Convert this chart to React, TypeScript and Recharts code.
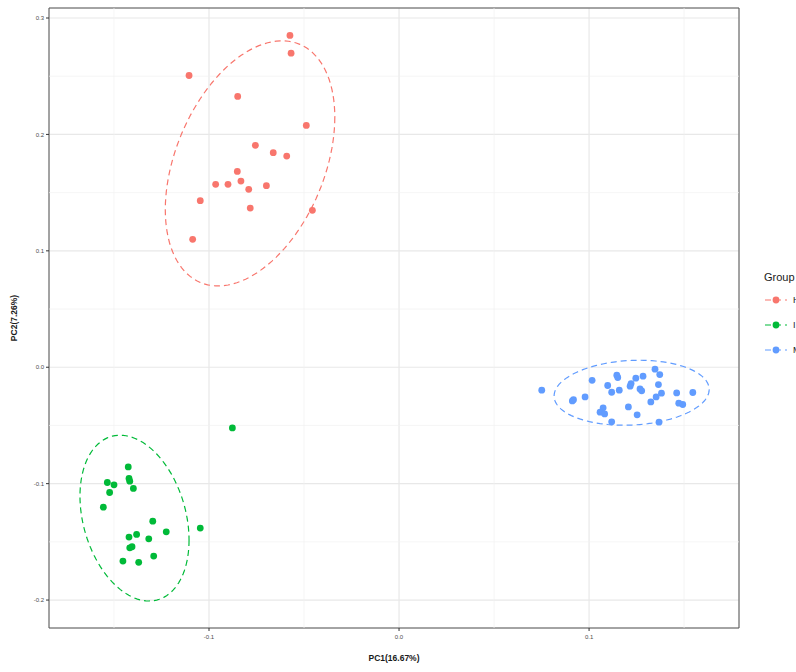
import { ScatterChart, Scatter, XAxis, YAxis, CartesianGrid, ReferenceLine, ReferenceArea } from "recharts";

// groups (legend text is clipped at the right edge of the picture)
const groupNames = ["H", "I", "M"];
const groupColors = ["#F8766D", "#00BA38", "#619CFF"];

const redPC1 = [-0.0574, -0.0568, -0.1105, -0.0849, -0.0488, -0.0756, -0.0662, -0.0591, -0.0851, -0.0965, -0.09, -0.0832, -0.0791, -0.0698, -0.1046, -0.0783, -0.0456, -0.1086];
const redPC2 = [0.285, 0.2698, 0.2506, 0.2326, 0.2077, 0.1906, 0.1843, 0.1814, 0.1682, 0.1571, 0.1571, 0.1599, 0.1528, 0.156, 0.1431, 0.1367, 0.1348, 0.1099];

const greenPC1 = [-0.0877, -0.1425, -0.1421, -0.1417, -0.1535, -0.15, -0.1398, -0.1523, -0.1556, -0.1296, -0.1046, -0.1225, -0.1381, -0.1421, -0.1317, -0.1405, -0.1417, -0.1291, -0.1453, -0.137];
const greenPC2 = [-0.0521, -0.0856, -0.0955, -0.0979, -0.099, -0.101, -0.1041, -0.1076, -0.1202, -0.1322, -0.1382, -0.1414, -0.1436, -0.1459, -0.1474, -0.1542, -0.1551, -0.1622, -0.1665, -0.1676];

const bluePC1 = [0.0751, 0.0912, 0.0918, 0.0979, 0.1016, 0.1098, 0.1119, 0.1146, 0.1151, 0.1159, 0.1216, 0.1221, 0.1246, 0.1284, 0.1268, 0.1277, 0.1347, 0.1372, 0.1365, 0.1381, 0.1353, 0.1325, 0.1461, 0.1546, 0.1472, 0.1493, 0.1207, 0.1253, 0.1074, 0.1058, 0.1082, 0.1119, 0.1368];
const bluePC2 = [-0.0197, -0.0289, -0.0279, -0.0255, -0.0112, -0.0157, -0.0215, -0.0069, -0.0088, -0.0197, -0.0163, -0.014, -0.0094, -0.0077, -0.0186, -0.0203, -0.0017, -0.0063, -0.0149, -0.0223, -0.0255, -0.0298, -0.0221, -0.0217, -0.0309, -0.032, -0.0341, -0.0409, -0.0349, -0.0386, -0.0401, -0.0469, -0.0472];

// confidence ellipses: centre, half width (PC1), half height (PC2), phase
const ellipseCX = [-0.0784, -0.1392, 0.1224];
const ellipseCY = [0.1751, -0.1296, -0.0219];
const ellipseA = [0.0446, 0.0287, 0.0408];
const ellipseB = [0.1053, 0.0712, 0.0279];
const ellipsePhase = [1.184, 1.839, 1.47];

const xTicks = [-0.1, 0, 0.1];
const yTicks = [-0.2, -0.1, 0, 0.1, 0.2, 0.3];
const xMinor = [-0.15, -0.05, 0.05, 0.15];
const yMinor = [-0.15, -0.05, 0.05, 0.15, 0.25];

const toPoints = (xs: number[], ys: number[]) => xs.map((x, i) => ({ x, y: ys[i] }));
const groups = [toPoints(redPC1, redPC2), toPoints(greenPC1, greenPC2), toPoints(bluePC1, bluePC2)];

const ellipse = (g: number) => {
  const pts = [];
  for (let i = 0; i <= 120; i++) {
    const t = (i / 120) * Math.PI * 2;
    pts.push({ x: ellipseCX[g] + ellipseA[g] * Math.cos(t), y: ellipseCY[g] + ellipseB[g] * Math.cos(t + ellipsePhase[g]) });
  }
  return pts;
};

const font = "'Liberation Sans', Arial, sans-serif";
const fmt = (v: number) => v.toFixed(1);

export default function App() {
  return (
    <div style={{ position: "absolute", left: 0, top: 0, width: 796, height: 672, overflow: "hidden", background: "#fff", fontFamily: font }}>
      <ScatterChart width={796} height={672} margin={{ top: 8, right: 57, left: 0, bottom: 0 }}>
        <CartesianGrid stroke="#E8E8E8" strokeWidth={1.2} />
        {xMinor.map((v) => (
          <ReferenceLine key={"vx" + v} x={v} stroke="#F0F0F0" strokeWidth={0.7} />
        ))}
        {yMinor.map((v) => (
          <ReferenceLine key={"hy" + v} y={v} stroke="#F0F0F0" strokeWidth={0.7} />
        ))}
        <XAxis
          type="number"
          dataKey="x"
          domain={[-0.1842, 0.1789]}
          allowDataOverflow
          ticks={xTicks}
          tickFormatter={fmt}
          height={44}
          tickSize={3}
          tickMargin={4}
          axisLine={false}
          tickLine={{ stroke: "#333" }}
          tick={{ fontSize: 6, fill: "#4D4D4D", fontFamily: font }}
          label={{ value: "PC1(16.67%)", position: "insideBottom", offset: 11, style: { fontSize: 8.5, fontWeight: "bold", fill: "#1a1a1a", fontFamily: font } }}
        />
        <YAxis
          type="number"
          dataKey="y"
          domain={[-0.224, 0.3086]}
          allowDataOverflow
          ticks={yTicks}
          tickFormatter={fmt}
          width={49}
          tickSize={3}
          axisLine={false}
          tickLine={{ stroke: "#333" }}
          tick={{ fontSize: 6, fill: "#4D4D4D", fontFamily: font }}
          label={(props: any) => {
            const vb = props.viewBox;
            const cx = vb.x + 14;
            const cy = vb.y + vb.height / 2;
            return (
              <text x={cx} y={cy} transform={`rotate(-90 ${cx} ${cy})`} textAnchor="middle" dominantBaseline="central" fontSize={8.5} fontWeight="bold" fill="#1a1a1a" fontFamily={font}>
                PC2(7.26%)
              </text>
            );
          }}
        />
        <ReferenceArea x1={-0.1842} x2={0.1789} y1={-0.224} y2={0.3086} fill="none" stroke="#555" strokeWidth={1} ifOverflow="visible" />
        {groups.map((pts, g) => (
          <Scatter
            key={"p" + g}
            data={pts}
            isAnimationActive={false}
            shape={(p: any) => <circle cx={p.cx} cy={p.cy} r={3.4} fill={groupColors[g]} />}
          />
        ))}
        {groups.map((_, g) => (
          <Scatter
            key={"e" + g}
            data={ellipse(g)}
            isAnimationActive={false}
            line={{ stroke: groupColors[g], strokeWidth: 1.2, strokeDasharray: "6 4" }}
            lineType="joint"
            shape={() => <g />}
          />
        ))}
      </ScatterChart>
      <div style={{ position: "absolute", left: 764, top: 271, fontSize: 11, color: "#1a1a1a", whiteSpace: "nowrap" }}>Group</div>
      {groupNames.map((name, g) => (
        <div key={name} style={{ position: "absolute", left: 764, top: 292 + g * 25, height: 16, display: "flex", alignItems: "center", whiteSpace: "nowrap" }}>
          <svg width={24} height={16}>
            <line x1={1} x2={23} y1={8} y2={8} stroke={groupColors[g]} strokeWidth={1.2} strokeDasharray="6 4" />
            <circle cx={12} cy={8} r={3.4} fill={groupColors[g]} />
          </svg>
          <span style={{ fontSize: 9, color: "#1a1a1a", marginLeft: 5 }}>{name}</span>
        </div>
      ))}
    </div>
  );
}
